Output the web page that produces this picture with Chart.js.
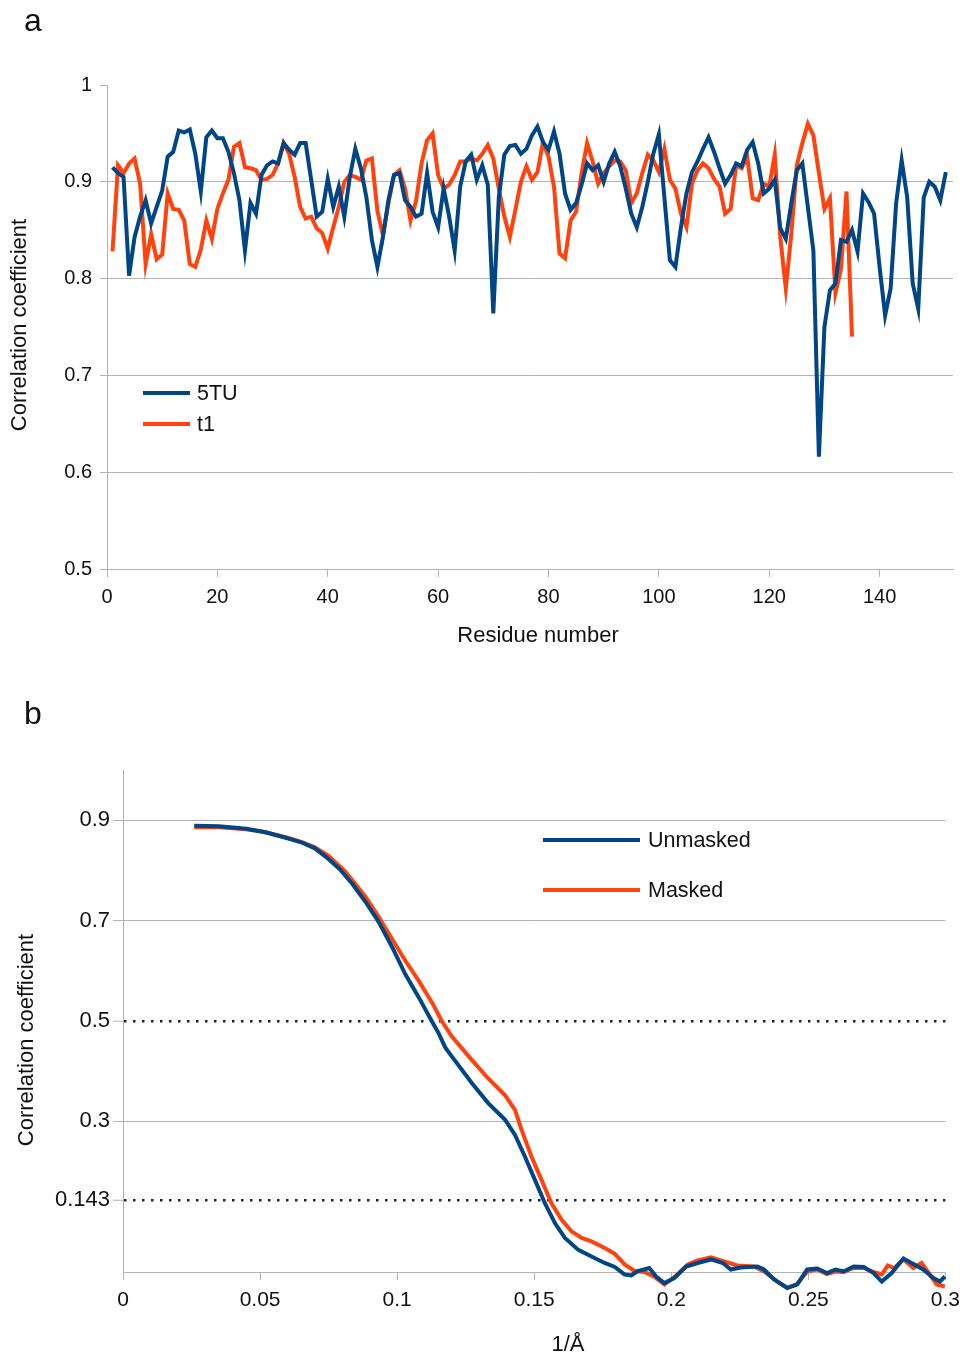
<!DOCTYPE html>
<html>
<head>
<meta charset="utf-8">
<title>Correlation coefficient plots</title>
<script src="https://cdn.jsdelivr.net/npm/chart.js@4.4.1/dist/chart.umd.min.js"></script>
<style>
  html, body { margin: 0; padding: 0; background: #fff; }
  body { width: 968px; height: 1356px; position: relative; overflow: hidden;
         font-family: "Liberation Sans", Arial, sans-serif; }
  .panel { position: absolute; left: 0; width: 968px; }
  .tag { position: absolute; left: 24px; font-size: 32px; line-height: 1; color: #111; }
</style>
</head>
<body>
<div class="panel" style="top:0;height:660px"><canvas id="chartA" width="968" height="660"></canvas></div>
<div class="panel" style="top:680px;height:676px"><canvas id="chartB" width="968" height="676"></canvas></div>
<div class="tag" style="top:4px">a</div>
<div class="tag" style="top:697px">b</div>
<script>
// ---------- Panel a: per-residue correlation ----------
const firstResidue = 1;
const cc5TU = [
  0.915, 0.909, 0.905, 0.803, 0.843, 0.864, 0.881, 0.857, 0.874, 0.891,
  0.926, 0.931, 0.953, 0.951, 0.954, 0.929, 0.890, 0.946, 0.953, 0.945,
  0.945, 0.931, 0.909, 0.881, 0.829, 0.878, 0.867, 0.907, 0.917, 0.921,
  0.919, 0.940, 0.933, 0.928, 0.940, 0.940, 0.902, 0.864, 0.869, 0.903,
  0.874, 0.895, 0.864, 0.905, 0.934, 0.914, 0.884, 0.840, 0.812, 0.843,
  0.881, 0.907, 0.909, 0.881, 0.874, 0.864, 0.867, 0.909, 0.869, 0.853,
  0.893, 0.864, 0.829, 0.895, 0.921, 0.928, 0.902, 0.917, 0.897, 0.764,
  0.884, 0.928, 0.937, 0.938, 0.929, 0.934, 0.948, 0.957, 0.941, 0.933,
  0.952, 0.929, 0.888, 0.871, 0.878, 0.897, 0.919, 0.912, 0.917, 0.900,
  0.919, 0.931, 0.916, 0.893, 0.867, 0.853, 0.874, 0.900, 0.929, 0.949,
  0.884, 0.819, 0.812, 0.853, 0.888, 0.910, 0.921, 0.934, 0.946, 0.931,
  0.914, 0.898, 0.907, 0.919, 0.916, 0.933, 0.941, 0.919, 0.888, 0.893,
  0.902, 0.852, 0.841, 0.878, 0.912, 0.919, 0.874, 0.829, 0.616, 0.750,
  0.788, 0.795, 0.840, 0.838, 0.850, 0.828, 0.888, 0.879, 0.867, 0.812,
  0.762, 0.790, 0.878, 0.922, 0.884, 0.795, 0.769, 0.884, 0.900, 0.895,
  0.881, 0.910
];
const ccT1 = [
  0.828, 0.917, 0.909, 0.919, 0.924, 0.898, 0.815, 0.846, 0.820, 0.825,
  0.888, 0.872, 0.871, 0.860, 0.815, 0.812, 0.830, 0.860, 0.841, 0.872,
  0.888, 0.902, 0.936, 0.940, 0.915, 0.914, 0.912, 0.902, 0.903, 0.907,
  0.919, 0.940, 0.929, 0.905, 0.874, 0.862, 0.864, 0.852, 0.847, 0.831,
  0.853, 0.874, 0.900, 0.907, 0.905, 0.902, 0.922, 0.924, 0.870, 0.845,
  0.878, 0.907, 0.912, 0.893, 0.860, 0.880, 0.919, 0.943, 0.950, 0.907,
  0.893, 0.897, 0.907, 0.921, 0.921, 0.924, 0.922, 0.929, 0.938, 0.924,
  0.893, 0.864, 0.843, 0.871, 0.900, 0.916, 0.902, 0.910, 0.941, 0.926,
  0.895, 0.826, 0.821, 0.860, 0.869, 0.909, 0.940, 0.921, 0.898, 0.909,
  0.916, 0.922, 0.921, 0.912, 0.878, 0.888, 0.909, 0.928, 0.922, 0.910,
  0.934, 0.902, 0.893, 0.867, 0.853, 0.898, 0.912, 0.919, 0.914, 0.903,
  0.895, 0.867, 0.872, 0.917, 0.914, 0.926, 0.883, 0.881, 0.898, 0.895,
  0.928, 0.843, 0.790, 0.846, 0.917, 0.940, 0.960, 0.948, 0.909, 0.872,
  0.883, 0.785, 0.810, 0.890, 0.740
];
const xTicksA = [0, 20, 40, 60, 80, 100, 120, 140];
const yTicksA = [0.5, 0.6, 0.7, 0.8, 0.9, 1];
const xTitleA = 'Residue number';
const yTitleA = 'Correlation coefficient';

// ---------- Panel b: FSC curves ----------
const freqUnmasked = [
  0.026, 0.035, 0.045, 0.052, 0.060, 0.065, 0.070, 0.074, 0.079, 0.0837,
  0.0885, 0.0933, 0.0982, 0.103, 0.1079, 0.1127, 0.1151, 0.1176, 0.120, 0.1273,
  0.1333, 0.1394, 0.143, 0.1466, 0.1503, 0.1539, 0.1576, 0.1612, 0.1661, 0.1709,
  0.1757, 0.1794, 0.183, 0.1854, 0.1878, 0.192, 0.1945, 0.1975, 0.2011, 0.2054,
  0.2096, 0.2145, 0.2188, 0.2217, 0.2253, 0.2314, 0.2338, 0.2375, 0.2423, 0.2459,
  0.2496, 0.2532, 0.2568, 0.2599, 0.2629, 0.2665, 0.2702, 0.2738, 0.2768, 0.2804,
  0.2847, 0.2883, 0.2919, 0.2956, 0.298, 0.2998
];
const fscUnmasked = [
  0.889, 0.888, 0.883, 0.876, 0.864, 0.856, 0.844, 0.827, 0.803, 0.773,
  0.737, 0.697, 0.647, 0.593, 0.547, 0.499, 0.476, 0.447, 0.429, 0.376,
  0.336, 0.303, 0.273, 0.230, 0.183, 0.137, 0.097, 0.068, 0.044, 0.031,
  0.018, 0.010, -0.005, -0.007, 0.002, 0.008, -0.009, -0.022, -0.012, 0.011,
  0.018, 0.025, 0.018, 0.005, 0.009, 0.011, 0.005, -0.015, -0.032, -0.025,
  0.005, 0.007, -0.002, 0.005, 0.001, 0.011, 0.010, -0.002, -0.019, -0.002,
  0.027, 0.016, 0.005, -0.012, -0.019, -0.009
];
const freqMasked = [
  0.026, 0.035, 0.045, 0.052, 0.060, 0.065, 0.070, 0.075, 0.0812, 0.0885,
  0.0933, 0.0982, 0.103, 0.1079, 0.1127, 0.1164, 0.120, 0.1273, 0.1333, 0.1394,
  0.143, 0.1454, 0.149, 0.1527, 0.1563, 0.160, 0.1636, 0.1673, 0.1709, 0.1757,
  0.1794, 0.183, 0.1866, 0.1903, 0.1939, 0.1975, 0.2023, 0.206, 0.2096, 0.2145,
  0.2193, 0.2241, 0.2302, 0.2338, 0.2387, 0.2423, 0.2459, 0.2496, 0.2532, 0.2568,
  0.2599, 0.2629, 0.2665, 0.2702, 0.2738, 0.2768, 0.279, 0.2813, 0.2847, 0.2883,
  0.2913, 0.2943, 0.2968, 0.2998
];
const fscMasked = [
  0.886, 0.886, 0.882, 0.876, 0.865, 0.857, 0.846, 0.829, 0.797, 0.747,
  0.707, 0.663, 0.620, 0.580, 0.537, 0.499, 0.469, 0.422, 0.385, 0.352,
  0.323, 0.283, 0.230, 0.183, 0.137, 0.104, 0.081, 0.068, 0.061, 0.048,
  0.036, 0.015, 0.002, 0.000, -0.010, -0.025, -0.005, 0.015, 0.023, 0.029,
  0.021, 0.013, 0.011, 0.001, -0.019, -0.031, -0.024, 0.001, 0.005, -0.004,
  0.001, 0.000, 0.008, 0.008, 0.000, -0.005, 0.013, 0.008, 0.025, 0.008,
  0.018, -0.005, -0.025, -0.029
];
const xTicksB = [0, 0.05, 0.1, 0.15, 0.2, 0.25, 0.3];
const yTicksB = [0.143, 0.3, 0.5, 0.7, 0.9];
const thresholdLevels = [0.5, 0.143];
const xTitleB = '1/Å';
const yTitleB = 'Correlation coefficient';

// ---------- shared styling ----------
const BLUE = '#004586';
const ORANGE = '#ff420e';
const GRID = '#b3b3b3';
const INK = '#111111';
const FONT = '"Liberation Sans", Arial, sans-serif';

const toPoints = (xs, ys) => ys.map((y, i) => ({ x: xs[i], y }));
const residuesFor = (values) => values.map((_, i) => firstResidue + i);
const fixedTicks = (list) => (scale) => { scale.ticks = list.map(v => ({ value: v })); };

// Legend drawn inside the plot area, one row per dataset
const insetLegend = {
  id: 'insetLegend',
  afterDatasetsDraw(chart, args, opts) {
    const { ctx, chartArea } = chart;
    ctx.save();
    ctx.font = opts.font;
    ctx.textBaseline = 'middle';
    ctx.textAlign = 'left';
    chart.data.datasets.forEach((ds, i) => {
      const x = chartArea.left + opts.left;
      const y = chartArea.top + opts.top + i * opts.rowGap;
      ctx.strokeStyle = ds.borderColor;
      ctx.lineWidth = ds.borderWidth;
      ctx.beginPath();
      ctx.moveTo(x, y);
      ctx.lineTo(x + opts.lineLength, y);
      ctx.stroke();
      ctx.fillStyle = INK;
      ctx.fillText(ds.label, x + opts.lineLength + opts.gap, y + 1);
    });
    ctx.restore();
  }
};

// Axis titles placed relative to the plot area (x below it, y rotated to its left)
const axisCaptions = {
  id: 'axisCaptions',
  afterDraw(chart, args, opts) {
    const { ctx, chartArea } = chart;
    ctx.save();
    ctx.font = opts.font;
    ctx.fillStyle = INK;
    ctx.textAlign = 'center';
    ctx.textBaseline = 'middle';
    ctx.fillText(opts.xText, chartArea.left + opts.xAt[0], chartArea.bottom + opts.xAt[1]);
    ctx.translate(chartArea.left + opts.yAt[0], chartArea.top + opts.yAt[1]);
    ctx.rotate(-Math.PI / 2);
    ctx.fillText(opts.yText, 0, 0);
    ctx.restore();
  }
};

const lineStyle = (color) => ({
  borderColor: color, backgroundColor: color, borderWidth: 4,
  pointRadius: 0, tension: 0, fill: false
});

// Panel a
new Chart(document.getElementById('chartA'), {
  type: 'line',
  data: {
    datasets: [
      { label: '5TU', data: toPoints(residuesFor(cc5TU), cc5TU), ...lineStyle(BLUE) },
      { label: 't1', data: toPoints(residuesFor(ccT1), ccT1), ...lineStyle(ORANGE) }
    ]
  },
  options: {
    responsive: false, animation: false, devicePixelRatio: 1,
    layout: { padding: { top: 85, right: 15, left: 0, bottom: 0 } },
    plugins: {
      legend: { display: false }, tooltip: { enabled: false },
      insetLegend: { left: 36, top: 308, rowGap: 31, lineLength: 47, gap: 7, font: '21.5px ' + FONT },
      axisCaptions: { xText: xTitleA, yText: yTitleA, xAt: [431, 67], yAt: [-87, 240], font: '22px ' + FONT }
    },
    scales: {
      x: {
        type: 'linear', min: 0, max: 153.3,
        afterBuildTicks: fixedTicks(xTicksA),
        afterFit: (s) => { s.height = 91; },
        grid: { drawOnChartArea: false, tickLength: 8, color: GRID },
        border: { color: GRID, width: 1 },
        ticks: { font: { size: 20, family: FONT }, color: INK, padding: 8, maxRotation: 0,
                 callback: (v) => String(v) }
      },
      y: {
        type: 'linear', min: 0.5, max: 1,
        afterBuildTicks: fixedTicks(yTicksA),
        afterFit: (s) => { s.width = 107; },
        grid: { color: (c) => (c.tick && c.tick.value === 1 ? 'rgba(0,0,0,0)' : GRID),
                tickColor: GRID, tickLength: 7 },
        border: { color: GRID, width: 1 },
        ticks: { font: { size: 20, family: FONT }, color: INK, padding: 8,
                 callback: (v) => String(v) }
      }
    }
  },
  plugins: [insetLegend, axisCaptions]
});

// Panel b
const isThreshold = (c) => c.tick && thresholdLevels.includes(c.tick.value);
new Chart(document.getElementById('chartB'), {
  type: 'line',
  data: {
    datasets: [
      { label: 'Unmasked', data: toPoints(freqUnmasked, fscUnmasked), clip: false, ...lineStyle(BLUE) },
      { label: 'Masked', data: toPoints(freqMasked, fscMasked), clip: false, ...lineStyle(ORANGE) }
    ]
  },
  options: {
    responsive: false, animation: false, devicePixelRatio: 1,
    layout: { padding: { top: 90, right: 19, left: 0, bottom: 0 } },
    plugins: {
      legend: { display: false }, tooltip: { enabled: false },
      insetLegend: { left: 420, top: 70, rowGap: 50, lineLength: 97, gap: 8, font: '21.5px ' + FONT },
      axisCaptions: { xText: xTitleB, yText: yTitleB, xAt: [445, 73], yAt: [-96, 270], font: '22px ' + FONT }
    },
    scales: {
      x: {
        type: 'linear', min: 0, max: 0.3,
        afterBuildTicks: fixedTicks(xTicksB),
        afterFit: (s) => { s.height = 84; },
        grid: { drawOnChartArea: false, tickLength: 8, color: GRID },
        border: { color: GRID, width: 1 },
        ticks: { font: { size: 21, family: FONT }, color: INK, padding: 8, maxRotation: 0,
                 callback: (v) => String(v) }
      },
      y: {
        type: 'linear', min: 0, max: 1,
        afterBuildTicks: fixedTicks(yTicksB),
        afterFit: (s) => { s.width = 123; },
        grid: {
          color: (c) => (isThreshold(c) ? '#222222' : GRID),
          lineWidth: (c) => (isThreshold(c) ? 2.5 : 1),
          tickColor: GRID, tickWidth: 1, tickLength: 10
        },
        border: { color: GRID, width: 1, dash: (c) => (isThreshold(c) ? [2.5, 6.5] : []) },
        ticks: { font: { size: 22, family: FONT }, color: INK, padding: 3,
                 callback: (v) => String(v) }
      }
    }
  },
  plugins: [insetLegend, axisCaptions]
});
</script>
</body>
</html>
